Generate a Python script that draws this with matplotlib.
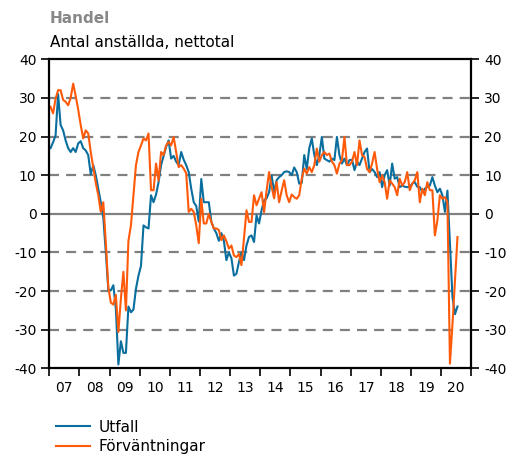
import numpy as np
import matplotlib
matplotlib.use("Agg")
import matplotlib.pyplot as plt

# ---- data (monthly, Jan 2007 .. Jul 2020) ----
start_year = 2007
utfall = [
    17, 18.5, 20.3, 31, 23, 21.6, 19, 17, 16, 17, 16, 18.2,
    18.8, 17, 16.4, 15.2, 10.2, 12.6, 10, 6.5, 3, -1, -10, -19.8,
    -19.8, -18.5, -24.6, -39, -33, -36, -36, -24, -25.5, -24.8, -19.4, -16,
    -13.5, -3, -3.5, -3.8, 4.8, 3, 5, 8.2, 12.6, 15, 17.3, 19,
    14.3, 15, 13.5, 12.6, 16, 14, 12.6, 10.8, 6.5, 3, 2, -2,
    9, 3, 3, 3, -2, -3.8, -5, -7, -5, -7, -12, -10,
    -11.5, -16, -15.5, -12.5, -10, -12, -8.2, -6, -5.6, -7.3, -0.4, -2.5,
    0.9, 3.5, 4, 5.6, 10, 5.6, 8.7, 9.5, 10, 10.8, 11, 10.8,
    10, 12, 10.8, 7.8, 8, 15.2, 11.6, 17, 19.5, 15.2, 12.6, 15.2,
    19.9, 14.3, 13.9, 13.5, 14.3, 13.9, 19.9, 15.2, 13, 14.3, 12.6, 13.9,
    14, 11.3, 13.5, 12.6, 14.3, 16, 16.9, 10.8, 11.6, 10.8, 9.5, 10.8,
    6.9, 10, 11.3, 7.3, 13, 9.1, 9.5, 6.9, 7.3, 7, 6.9, 7,
    7.8, 8.2, 7, 6.9, 5.6, 6.5, 7, 7.3, 9.5, 7.3, 5.6, 6.5,
    4.8, 0.5, 6, -8, -21.5, -26, -24,
]
forvantningar = [
    27.7, 26, 29.8, 32, 32, 29.5, 29, 28.1, 30, 33.7, 30.5, 27,
    23, 19.5, 21.6, 20.8, 16, 12, 8, 4.8, 0.5, 3, -7.5, -19,
    -23, -23.5, -21, -30.6, -22, -15, -25, -7, -3, 4.8, 12.6, 16,
    17.7, 19.5, 19, 20.8, 6.1, 6.1, 13, 8.6, 16, 15.2, 17.7, 18.6,
    17.7, 19.9, 16, 12.1, 12.6, 11.7, 10.5, 0.5, 1.3, 0.5, -3, -7.6,
    3.9, -2.5, -2.5, 0, -2.1, -3.8, -3.8, -4.2, -6.8, -5.6, -7.1, -9,
    -8.2, -10.8, -11.2, -10.4, -13.3, -6.4, 0.9, -2.1, -2.1, 4.8, 2.2, 3.9,
    5.6, 0.4, 6, 10.8, 7, 4, 8.2, 3, 6, 8.7, 4.8, 3,
    5, 4.3, 3.9, 4.8, 9.1, 11.7, 10.4, 12.1, 10.8, 12.6, 16.9, 13.5,
    15.2, 16, 15.2, 15.6, 13.5, 12.6, 10.4, 13, 13.9, 19.9, 12.6, 12.6,
    13.5, 16, 12.6, 19, 15.2, 14.7, 11.6, 10.8, 13, 16, 11.6, 8.2,
    9.9, 8.2, 3.9, 8.7, 7.8, 6.9, 4.8, 9.1, 7.3, 8.2, 10.8, 6.1,
    7.8, 8.7, 10.8, 3, 6.5, 4.8, 8.2, 6.1, 6.1, -5.6, -1.7, 4.8,
    3.9, 4.3, 3, -38.8, -28.6, -17.1, -6,
]
years = list(range(2007, 2021))
year_labels = ["07", "08", "09", "10", "11", "12", "13", "14",
               "15", "16", "17", "18", "19", "20"]
yticks = [-40, -30, -20, -10, 0, 10, 20, 30, 40]

series_names = ["Utfall", "Förväntningar"]
colors = ["#0A6E9E", "#FF5A0A"]

# ---- figure ----
W, H = 523, 457
fig = plt.figure(figsize=(W / 100, H / 100), dpi=100)
plt.rcParams["font.family"] = ["DejaVu Sans"]
ax = fig.add_axes([49.3 / W, 1 - 368.3 / H, (471.3 - 49.3) / W, (368.3 - 59.3) / H])

t = start_year + (np.arange(len(utfall)) + 0.5) / 12.0

# grid
for v in yticks:
    if v == 0:
        ax.axhline(v, color="#808080", lw=1.6, zorder=1)
    elif abs(v) < 40:
        ax.axhline(v, color="#808080", lw=1.6, ls=(0, (4.5, 3.2)), zorder=1)

ax.plot(t, utfall, color=colors[0], lw=1.5, label=series_names[0], zorder=3)
ax.plot(t, forvantningar, color=colors[1], lw=1.5, label=series_names[1], zorder=4)

ax.set_xlim(2007, 2021)
ax.set_ylim(-40, 40)

ax.set_yticks(yticks)
ax.set_yticklabels([str(v) for v in yticks])
ax.tick_params(axis="y", which="major", direction="out", length=5.8, width=1.2,
               labelsize=10, pad=3.5, left=True, right=True,
               labelleft=True, labelright=True)

ax.set_xticks(years + [2021])
ax.set_xticklabels([])
ax.set_xticks([y + 0.5 for y in years], minor=True)
ax.set_xticklabels(year_labels, minor=True)
ax.tick_params(axis="x", which="major", direction="out", length=5.5, width=1.2)
ax.tick_params(axis="x", which="minor", length=0, labelsize=10, pad=9)

for s in ax.spines.values():
    s.set_linewidth(1.6)
    s.set_color("black")
    s.set_zorder(5)

fig.text(50 / W, 1 - 23.3 / H, "Handel", fontsize=11, fontweight="bold",
         color="#888888", ha="left", va="baseline")
fig.text(50 / W, 1 - 46.7 / H, "Antal anställda, nettotal", fontsize=11,
         color="black", ha="left", va="baseline")

fig.legend(loc="upper left", bbox_to_anchor=(56 / W, 1 - 419.5 / H),
           frameon=False, fontsize=11, handlelength=2.2, handletextpad=0.6,
           labelspacing=0.3, borderpad=0, borderaxespad=0)

fig.savefig("out.png", dpi=100)
